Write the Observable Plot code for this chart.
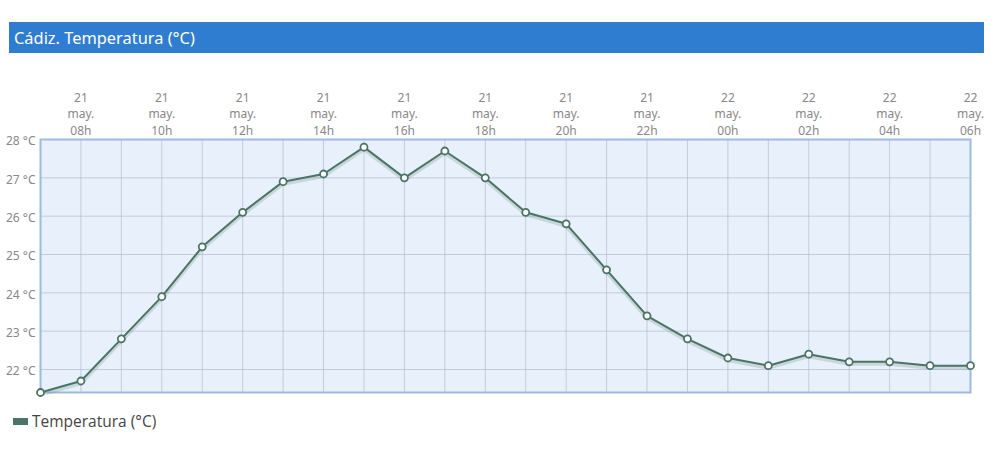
<!DOCTYPE html>
<html>
<head>
<meta charset="utf-8">
<script src="https://cdn.jsdelivr.net/npm/d3@7"></script>
<script src="https://cdn.jsdelivr.net/npm/@observablehq/plot@0.6"></script>
<style>
  body { margin: 0; background: #fff; font-family: "Noto Sans", sans-serif; }
  #title { position: absolute; left: 9px; top: 22px; width: 975px; height: 31px;
           background: #2f7dd1; color: #fff; font-size: 16.4px; line-height: 31px;
           padding-left: 5px; box-sizing: border-box; font-family: "Noto Sans", sans-serif; }
  #chart { position: absolute; left: 0; top: 60px; }
  #legend { position: absolute; left: 13px; top: 410px; font-size: 15.5px; color: #444;
            font-family: "Open Sans", sans-serif; display: flex; align-items: center; }
  #legend span.sw { display: inline-block; width: 15px; height: 7px; background: #4a7565; margin-right: 4px; }
</style>
</head>
<body>
<div id="title">Cádiz. Temperatura (°C)</div>
<div id="chart"></div>
<div id="legend"><span class="sw"></span>Temperatura (°C)</div>
<script>
const days  = ["21","21","21","21","21","21","21","21","21","21","21","21","21","21","21","21","21","22","22","22","22","22","22","22"];
const hours = ["07h","08h","09h","10h","11h","12h","13h","14h","15h","16h","17h","18h","19h","20h","21h","22h","23h","00h","01h","02h","03h","04h","05h","06h"];
const temps = [21.4,21.7,22.8,23.9,25.2,26.1,26.9,27.1,27.8,27.0,27.7,27.0,26.1,25.8,24.6,23.4,22.8,22.3,22.1,22.4,22.2,22.2,22.1,22.1];
const yTicks = [22,23,24,25,26,27,28];

const data = temps.map((t, i) => ({i, t}));
const idx = hours.map((h, i) => i);
const labelIdx = idx.filter(i => i % 2 === 1);

const lineColor = "#4a7565";

const chart = Plot.plot({
  width: 1000,
  height: 340,
  marginTop: 79,
  marginBottom: 8,
  marginLeft: 40,
  marginRight: 30,
  x: {domain: [0, 23], label: null},
  y: {domain: [21.4, 28], label: null},
  style: {fontFamily: "Noto Sans, sans-serif"},
  marks: [
    Plot.frame({fill: "#e8f0fb", stroke: null}),
    Plot.gridX(idx, {stroke: "#aab4c8", strokeOpacity: 0.6, strokeWidth: 1}),
    Plot.gridY(yTicks, {stroke: "#aab4c8", strokeOpacity: 0.6, strokeWidth: 1}),
    Plot.frame({stroke: "#9dbae2", strokeWidth: 2}),
    Plot.axisX(labelIdx, {
      anchor: "top", tickSize: 0, tickPadding: 5, label: null,
      tickFormat: i => `${days[i]}\nmay.\n${hours[i]}`,
      fontSize: 12, fill: "#888", lineHeight: 1.35
    }),
    Plot.axisY(yTicks, {
      anchor: "left", tickSize: 0, tickPadding: 5, label: null, dy: 2,
      tickFormat: d => `${d} °C`, fontSize: 12, fill: "#888"
    }),
    Plot.line(data, {x: "i", y: "t", stroke: "#6a8a7e", strokeOpacity: 0.25, strokeWidth: 4, dy: 2}),
    Plot.line(data, {x: "i", y: "t", stroke: lineColor, strokeWidth: 2}),
    Plot.dot(data, {x: "i", y: "t", r: 3.5, fill: "#fff", stroke: lineColor, strokeWidth: 1.8})
  ]
});
document.getElementById("chart").appendChild(chart);
</script>
</body>
</html>
